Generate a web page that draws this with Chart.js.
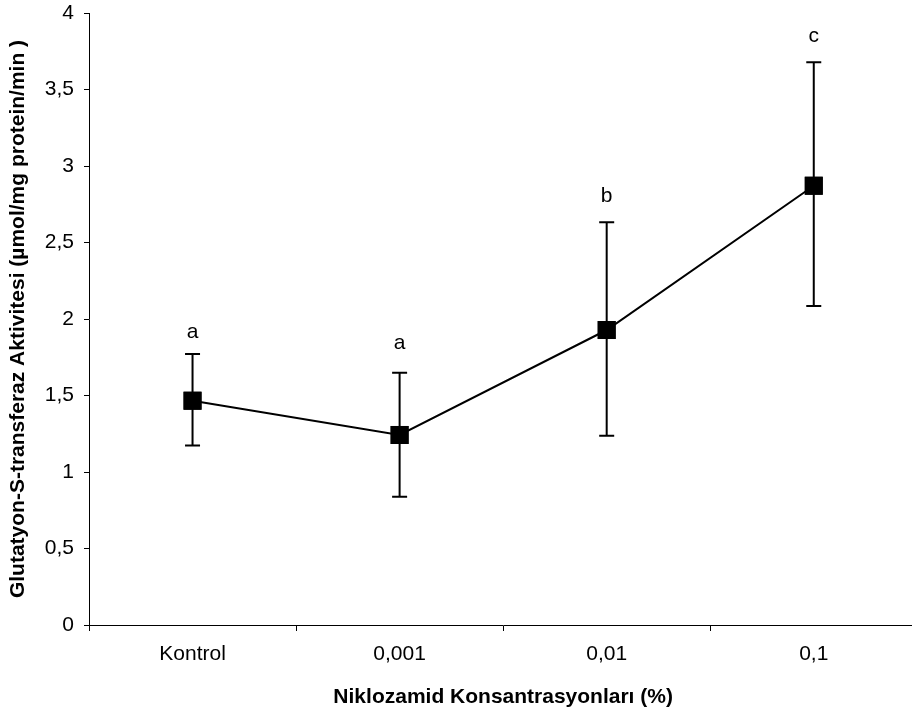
<!DOCTYPE html>
<html>
<head>
<meta charset="utf-8">
<script src="https://cdn.jsdelivr.net/npm/chart.js@4"></script>
<style>
  html, body { margin: 0; padding: 0; background: #fff; overflow: hidden; }
  #wrap { width: 912px; height: 710px; overflow: hidden; position: relative; }
  canvas { display: block; }
</style>
</head>
<body>
<div id="wrap"><canvas id="c" width="930" height="710"></canvas></div>
<script>
// ---- data ----
const categories = ['Kontrol', '0,001', '0,01', '0,1'];
const meanValues = [1.466, 1.242, 1.928, 2.871];
const errUpper   = [1.771, 1.649, 2.632, 3.678];
const errLower   = [1.174, 0.839, 1.237, 2.085];
const groupLetters = ['a', 'a', 'b', 'c'];
const letterValues = [1.915, 1.843, 2.804, 3.85];
const yTickLabels = ['0', '0,5', '1', '1,5', '2', '2,5', '3', '3,5', '4'];

const FONT = '"Liberation Sans", Arial, sans-serif';

const errorBarPlugin = {
  id: 'errorBars',
  afterDatasetsDraw(chart) {
    const ctx = chart.ctx;
    const x = chart.scales.x, y = chart.scales.y;
    ctx.save();
    ctx.strokeStyle = '#000';
    ctx.lineWidth = 2;
    const cap = 7.5;
    for (let i = 0; i < categories.length; i++) {
      const px = x.getPixelForValue(i);
      const yu = y.getPixelForValue(errUpper[i]);
      const yl = y.getPixelForValue(errLower[i]);
      ctx.beginPath();
      ctx.moveTo(px, yu); ctx.lineTo(px, yl);
      ctx.moveTo(px - cap, yu); ctx.lineTo(px + cap, yu);
      ctx.moveTo(px - cap, yl); ctx.lineTo(px + cap, yl);
      ctx.stroke();
    }
    // redraw markers on top
    const meta = chart.getDatasetMeta(0);
    meta.data.forEach(pt => {
      const s = 9;
      ctx.fillStyle = '#000';
      ctx.fillRect(pt.x - s, pt.y - s, 2 * s, 2 * s);
    });
    // letters
    ctx.fillStyle = '#000';
    ctx.font = '21px ' + FONT;
    ctx.textAlign = 'center';
    ctx.textBaseline = 'middle';
    for (let i = 0; i < categories.length; i++) {
      ctx.fillText(groupLetters[i], x.getPixelForValue(i), y.getPixelForValue(letterValues[i]));
    }
    ctx.restore();
  }
};

new Chart(document.getElementById('c'), {
  type: 'line',
  data: {
    labels: categories,
    datasets: [{
      data: meanValues,
      borderColor: '#000',
      borderWidth: 2,
      backgroundColor: '#000',
      pointStyle: 'rect',
      pointRadius: 12.7,
      pointBorderWidth: 0,
      tension: 0
    }]
  },
  options: {
    responsive: false,
    animation: false,
    layout: { padding: { left: 0, top: 13, right: 11, bottom: 0 } },
    plugins: { legend: { display: false }, tooltip: { enabled: false } },
    scales: {
      x: {
        type: 'category',
        offset: true,
        grid: { offset: true, drawOnChartArea: false, drawTicks: true, tickLength: 6, tickColor: '#000', tickWidth: 1 },
        border: { display: true, color: '#000', width: 1 },
        ticks: { color: '#000', font: { family: FONT, size: 21 }, padding: 11, maxRotation: 0, autoSkip: false },
        title: { display: true, text: 'Niklozamid Konsantrasyonları (%)', color: '#000', font: { family: FONT, size: 21, weight: 'bold' }, padding: { top: 4, bottom: 0 } },
        afterFit(scale) { scale.height = 85; scale.paddingLeft = 0; scale.paddingRight = 0; }
      },
      y: {
        min: 0, max: 4,
        ticks: {
          stepSize: 0.5,
          color: '#000',
          font: { family: FONT, size: 21 },
          padding: 10,
          callback: (v, i) => yTickLabels[i]
        },
        grid: { drawOnChartArea: false, drawTicks: true, tickLength: 5, tickColor: '#000', tickWidth: 1 },
        border: { display: true, color: '#000', width: 1 },
        title: { display: true, text: 'Glutatyon-S-transferaz Aktivitesi (µmol/mg protein/min )', color: '#000', font: { family: FONT, size: 21, weight: 'bold' }, padding: { top: 6, bottom: 0 } },
        afterFit(scale) { scale.width = 89; scale.paddingTop = 0; scale.paddingBottom = 0; }
      }
    }
  },
  plugins: [errorBarPlugin]
});
</script>
</body>
</html>
